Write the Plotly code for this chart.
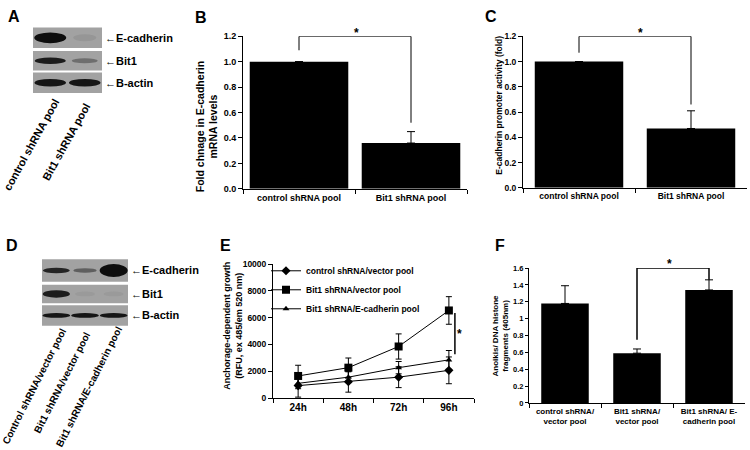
import plotly.graph_objects as go

W, H = 750, 450
FONT = "Liberation Sans, Arial, sans-serif"


def px(x):
    return x / W


def py(y):
    return 1 - y / H


# ---------------- data ----------------
# Panel A western blot (band intensity 0..1)
a_lanes = ["control shRNA pool", "Bit1 shRNA pool"]
a_proteins = ["E-cadherin", "Bit1", "B-actin"]
a_intensity = [[1.0, 0.08], [0.9, 0.35], [0.95, 0.95]]

# Panel B
b_cats = ["control shRNA pool", "Bit1 shRNA pool"]
b_vals = [1.0, 0.36]
b_err = [0.0, 0.09]

# Panel C
c_cats = ["control shRNA pool", "Bit1 shRNA pool"]
c_vals = [1.0, 0.47]
c_err = [0.0, 0.14]

# Panel D western blot
d_lanes = ["Control shRNA/vector pool", "Bit1 shRNA/vector pool", "Bit1 shRNA/E-cadherin pool"]
d_proteins = ["E-cadherin", "Bit1", "B-actin"]
d_intensity = [[0.85, 0.45, 1.0], [0.9, 0.05, 0.05], [0.95, 0.95, 0.95]]

# Panel E
e_times = ["24h", "48h", "72h", "96h"]
e_names = ["control shRNA/vector pool", "Bit1 shRNA/vector pool", "Bit1 shRNA/E-cadherin pool"]
e_ctrl = [930, 1220, 1560, 2070]
e_ctrl_err = [860, 780, 780, 1000]
e_bit1 = [1650, 2270, 3850, 6540]
e_bit1_err = [800, 720, 940, 1030]
e_ecad = [1100, 1560, 2270, 2850]
e_ecad_err = [400, 400, 460, 700]

# Panel F
f_cats = ["control shRNA/<br>vector pool", "Bit1 shRNA/<br>vector pool", "Bit1 shRNA/ E-<br>cadherin pool"]
f_vals = [1.18, 0.59, 1.34]
f_err = [0.21, 0.05, 0.12]

fig = go.Figure()


def tf(size):
    return dict(family=FONT, size=size, color="black", weight="bold")


def axis_style(**kw):
    d = dict(showline=True, linecolor="black", linewidth=1, ticks="outside", ticklen=4,
             tickcolor="black", tickwidth=1, showgrid=False, zeroline=False,
             tickfont=tf(9), fixedrange=True, tickangle=0)
    d.update(kw)
    return d


# ---------------- Panel B ----------------
fig.add_trace(go.Bar(x=b_cats, y=b_vals, marker_color="black", marker_line_width=0, width=0.88,
                     error_y=dict(type="data", array=b_err, arrayminus=[0, 0], symmetric=False,
                                  color="black", thickness=1, width=4),
                     xaxis="x", yaxis="y", showlegend=False))
fig.add_trace(go.Scatter(x=[b_cats[0], b_cats[0], b_cats[1], b_cats[1]], y=[1.09, 1.2, 1.2, 0.52],
                         mode="lines", line=dict(color="black", width=1), xaxis="x", yaxis="y",
                         showlegend=False, hoverinfo="skip"))

# ---------------- Panel C ----------------
fig.add_trace(go.Bar(x=c_cats, y=c_vals, marker_color="black", marker_line_width=0, width=0.79,
                     error_y=dict(type="data", array=c_err, arrayminus=[0, 0], symmetric=False,
                                  color="black", thickness=1, width=4),
                     xaxis="x2", yaxis="y2", showlegend=False))
fig.add_trace(go.Scatter(x=[c_cats[0], c_cats[0], c_cats[1], c_cats[1]], y=[1.07, 1.2, 1.2, 0.66],
                         mode="lines", line=dict(color="black", width=1), xaxis="x2", yaxis="y2",
                         showlegend=False, hoverinfo="skip"))

# ---------------- Panel E ----------------
e_series = [(e_ctrl, e_ctrl_err, "diamond", 7), (e_bit1, e_bit1_err, "square", 8),
            (e_ecad, e_ecad_err, "triangle-up", 6)]
for name, (vals, err, sym, size) in zip(e_names, e_series):
    fig.add_trace(go.Scatter(x=e_times, y=vals, name=name, mode="lines+markers",
                             line=dict(color="black", width=1),
                             marker=dict(symbol=sym, size=size, color="black"),
                             error_y=dict(type="data", array=err, color="black", thickness=1, width=3),
                             xaxis="x3", yaxis="y3", showlegend=True))

# ---------------- Panel F ----------------
fig.add_trace(go.Bar(x=f_cats, y=f_vals, marker_color="black", marker_line_width=0, width=0.66,
                     error_y=dict(type="data", array=f_err, arrayminus=[0, 0, 0], symmetric=False,
                                  color="black", thickness=1, width=4),
                     xaxis="x4", yaxis="y4", showlegend=False))
fig.add_trace(go.Scatter(x=[f_cats[1], f_cats[1], f_cats[2], f_cats[2]], y=[0.75, 1.6, 1.6, 1.46],
                         mode="lines", line=dict(color="black", width=1.5), xaxis="x4", yaxis="y4",
                         showlegend=False, hoverinfo="skip"))

# ---------------- layout axes ----------------
layout = dict(
    width=W, height=H, margin=dict(l=0, r=0, t=0, b=0),
    paper_bgcolor="white", plot_bgcolor="white",
    font=dict(family=FONT, color="black"),
    xaxis=axis_style(domain=[px(243), px(467)], anchor="y", tickson="boundaries", type="category",
                     range=[-0.5, 1.5]),
    yaxis=axis_style(domain=[py(188), py(32)], anchor="x", range=[0, 1.2], dtick=0.2, tickformat=".1f"),
    xaxis2=axis_style(domain=[px(523), px(747)], anchor="y2", tickson="boundaries", type="category",
                      range=[-0.5, 1.5], tickfont=tf(8.5)),
    yaxis2=axis_style(domain=[py(187), py(32)], anchor="x2", range=[0, 1.2], dtick=0.2, tickformat=".1f",
                      tickfont=tf(8.5)),
    xaxis3=axis_style(domain=[px(273), px(474)], anchor="y3", tickson="boundaries", type="category",
                      range=[-0.5, 3.5], tickfont=tf(10)),
    yaxis3=axis_style(domain=[py(402), py(265)], anchor="x3", range=[0, 10000], dtick=2000,
                      tickformat="d", tickfont=tf(8.5)),
    xaxis4=axis_style(domain=[px(529), px(745)], anchor="y4", tickson="boundaries", type="category",
                      range=[-0.5, 2.5], tickfont=tf(8)),
    yaxis4=axis_style(domain=[py(407), py(269)], anchor="x4", range=[0, 1.6], dtick=0.2, tickfont=tf(7.5),
                      ticklen=3),
    legend=dict(x=px(266), y=py(257), xanchor="left", yanchor="top", bgcolor="rgba(0,0,0,0)",
                font=dict(family=FONT, size=8.5, color="black", weight="bold"), itemwidth=30,
                tracegroupgap=0),
)
fig.update_layout(**layout)

shapes = []
annotations = []


def ann(x, y, text, size=11, angle=0, xanchor="center", yanchor="middle"):
    annotations.append(dict(x=px(x), y=py(y), xref="paper", yref="paper", text=text, showarrow=False,
                            textangle=angle, xanchor=xanchor, yanchor=yanchor,
                            font=dict(family=FONT, size=size, color="black", weight="bold")))


def blot(x0, x1, rows, intensity, band_h, band_w, proteins, big=None):
    n = len(intensity[0])
    lw = (x1 - x0) / n
    for r, (y0, y1) in enumerate(rows):
        shapes.append(dict(type="rect", xref="paper", yref="paper", x0=px(x0), x1=px(x1),
                           y0=py(y1), y1=py(y0), fillcolor="#a2a2a2", line=dict(width=0), layer="below"))
        yc = (y0 + y1) / 2
        for l in range(n):
            it = intensity[r][l]
            g = int(162 - it * 148)
            col = f"rgb({g},{g},{g})"
            xc = x0 + lw * (l + 0.5)
            hh = band_h[r] * (0.6 + 0.4 * it)
            if big is not None and big == (r, l):
                hh = band_h[r] * 2.2
            hw = band_w * (0.7 + 0.3 * it)
            shapes.append(dict(type="circle", xref="paper", yref="paper", x0=px(xc - hw), x1=px(xc + hw),
                               y0=py(yc + hh / 2), y1=py(yc - hh / 2), fillcolor=col, line=dict(width=0)))
        ann(x1 + 1, yc, "\u2190" + proteins[r], size=11, xanchor="left")


# Panel A blot
blot(33, 102, [(23, 44), (47, 67), (69, 90)], a_intensity, [11, 7, 8], 16, a_proteins)
# Panel D blot
blot(42, 128, [(260, 283), (286, 305), (307, 328)], d_intensity, [6, 8, 5], 14, d_proteins, big=(0, 2))

# significance line in panel E (drawn on the E axes just right of the 96h point)
shapes.append(dict(type="line", xref="x3", yref="y3", x0=3.12, x1=3.12, y0=3270, y1=6350,
                   line=dict(color="black", width=1.5)))

# lane labels
ann(31, 143, a_lanes[0], size=11, angle=-61)
ann(66, 140, a_lanes[1], size=11, angle=-61)
ann(34, 390, d_lanes[0], size=10, angle=-63)
ann(62, 386, d_lanes[1], size=10, angle=-63)
ann(89, 390, d_lanes[2], size=10, angle=-63)

# panel letters
for letter, x, y in [("A", 14, 12), ("B", 201, 13), ("C", 491, 12), ("D", 12, 246), ("E", 225, 246), ("F", 500, 246)]:
    ann(x, y, letter, size=16)

# axis titles
ann(207, 125, "Fold chnage in E-cadherin<br>mRNA levels", size=10.5, angle=-90)
ann(499, 103, "E-cadherin promoter activity (fold)", size=8.5, angle=-90)
ann(233, 328, "Anchorage-dependent growth<br>(RFU, ex 485/em 520 nm)", size=9, angle=-90)
ann(500, 338, "Anoikis/ DNA histone<br>fragments (405nm)", size=8, angle=-90)

# significance stars
ann(356, 29, "*", size=12)
ann(640, 29, "*", size=12)
ann(669, 265, "*", size=12)
ann(460, 336, "*", size=12)

fig.update_layout(shapes=shapes, annotations=annotations)
fig.write_html("out.html", config={"displayModeBar": False},
               post_script="document.body.style.margin='0';")
